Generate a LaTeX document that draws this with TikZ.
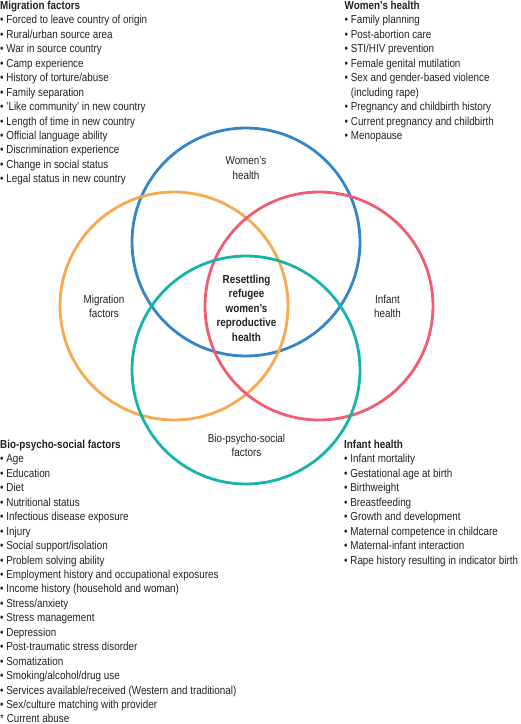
\documentclass[tikz,border=0pt]{standalone}
\usepackage{fontspec}
\setmainfont[FakeStretch=0.85]{Liberation Sans}
\usepackage{tikz}
\definecolor{womenblue}{RGB}{52,132,200}
\definecolor{migorange}{RGB}{248,168,78}
\definecolor{infantred}{RGB}{238,93,112}
\definecolor{bioteal}{RGB}{22,180,166}
\definecolor{inktext}{RGB}{34,34,34}
\newcommand{\listfont}{\fontsize{11.6}{14.45}\selectfont}

\begin{document}
\begin{tikzpicture}[
  x=1pt,y=-1pt,
  ring/.style={draw,circle,minimum size=228pt,inner sep=0pt,line width=2.8pt},
  ringlabel/.style={align=center,anchor=north,inner sep=0pt,font=\listfont,text=inktext},
  core/.style={ringlabel,font=\bfseries\listfont},
  factors/.style={align=left,anchor=north west,inner sep=0pt,font=\listfont,text=inktext}
]
\useasboundingbox (0,0) rectangle (521,724);

\node[ring,draw=womenblue] (women) at (246,242) {};
\node[ring,draw=migorange] (migration) at (174,306) {};
\node[ring,draw=infantred] (infant) at (319,306) {};
\node[ring,draw=bioteal] (bio) at (246,370) {};

\node[ringlabel] (womenlbl) at (246,156.8) {Women's\\health};
\node[ringlabel] (miglbl) at (104,294.8) {Migration\\factors};
\node[ringlabel] (infantlbl) at (387.5,294.8) {Infant\\health};
\node[ringlabel] (biolbl) at (246.5,433.5) {Bio-psycho-social\\factors};
\node[core] (centre) at (246.5,274.8) {Resettling\\refugee\\women's\\reproductive\\health};

\node[factors] (miglist) at (0,0.8) {\textbf{Migration factors}\\
  \textbullet\ Forced to leave country of origin\\
  \textbullet\ Rural/urban source area\\
  \textbullet\ War in source country\\
  \textbullet\ Camp experience\\
  \textbullet\ History of torture/abuse\\
  \textbullet\ Family separation\\
  \textbullet\ 'Like community' in new country\\
  \textbullet\ Length of time in new country\\
  \textbullet\ Official language ability\\
  \textbullet\ Discrimination experience\\
  \textbullet\ Change in social status\\
  \textbullet\ Legal status in new country};

\node[factors] (womenlist) at (344.5,0.8) {\textbf{Women's health}\\
  \textbullet\ Family planning\\
  \textbullet\ Post-abortion care\\
  \textbullet\ STI/HIV prevention\\
  \textbullet\ Female genital mutilation\\
  \textbullet\ Sex and gender-based violence\\
  \phantom{\textbullet\ }(including rape)\\
  \textbullet\ Pregnancy and childbirth history\\
  \textbullet\ Current pregnancy and childbirth\\
  \textbullet\ Menopause};

\node[factors] (biolist) at (0,439.8) {\textbf{Bio-psycho-social factors}\\
  \textbullet\ Age\\
  \textbullet\ Education\\
  \textbullet\ Diet\\
  \textbullet\ Nutritional status\\
  \textbullet\ Infectious disease exposure\\
  \textbullet\ Injury\\
  \textbullet\ Social support/isolation\\
  \textbullet\ Problem solving ability\\
  \textbullet\ Employment history and occupational exposures\\
  \textbullet\ Income history (household and woman)\\
  \textbullet\ Stress/anxiety\\
  \textbullet\ Stress management\\
  \textbullet\ Depression\\
  \textbullet\ Post-traumatic stress disorder\\
  \textbullet\ Somatization\\
  \textbullet\ Smoking/alcohol/drug use\\
  \textbullet\ Services available/received (Western and traditional)\\
  \textbullet\ Sex/culture matching with provider\\
  * Current abuse};

\node[factors] (infantlist) at (344,439.8) {\textbf{Infant health}\\
  \textbullet\ Infant mortality\\
  \textbullet\ Gestational age at birth\\
  \textbullet\ Birthweight\\
  \textbullet\ Breastfeeding\\
  \textbullet\ Growth and development\\
  \textbullet\ Maternal competence in childcare\\
  \textbullet\ Maternal-infant interaction\\
  \textbullet\ Rape history resulting in indicator birth};
\end{tikzpicture}
\end{document}
